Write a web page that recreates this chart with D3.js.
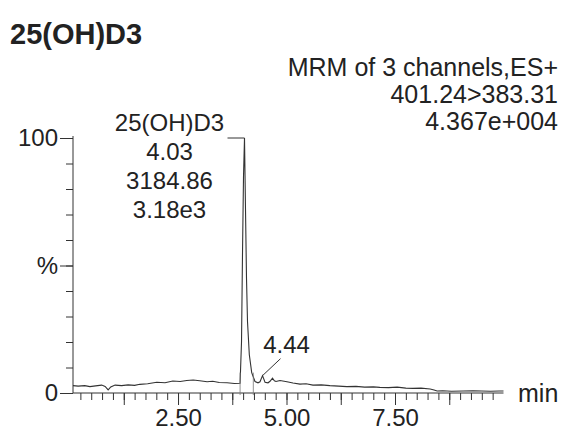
<!DOCTYPE html>
<html>
<head>
<meta charset="utf-8">
<script src="https://cdn.jsdelivr.net/npm/d3@7"></script>
<style>
	body { margin: 0; background: #fff; }
	svg text { font-family: "Liberation Sans", Arial, sans-serif; fill: #222; }
</style>
</head>
<body>
<svg id="chart" width="565" height="432"></svg>
<script>
// chromatogram trace (time in min, intensity in %)
var times = [0.08, 0.2, 0.35, 0.47, 0.6, 0.74, 0.82, 0.89, 0.95, 1.05, 1.2, 1.35, 1.5, 1.62, 1.8, 2.01, 2.2, 2.38, 2.55, 2.7,
	2.85, 3.0, 3.17, 3.3, 3.45, 3.63, 3.8, 3.93, 3.963, 3.986, 4.009, 4.032, 4.055, 4.078, 4.101, 4.143, 4.198, 4.274, 4.343, 4.389,
	4.447, 4.505, 4.574, 4.62, 4.677, 4.72, 4.758, 4.85, 5.01, 5.15, 5.31, 5.45, 5.61, 5.8, 6.0, 6.2, 6.39, 6.6, 6.8, 7.0,
	7.15, 7.35, 7.55, 7.75, 7.91, 8.1, 8.31, 8.4, 8.47, 8.6, 8.8, 9.07, 9.3, 9.5, 9.7, 9.9, 10.0];
var intensities = [2.9, 2.7, 2.9, 2.5, 2.8, 3.1, 2.6, 1.2, 2.4, 3.1, 2.9, 3.2, 3.0, 3.4, 3.6, 4.2, 4.0, 4.7, 4.5, 4.9,
	5.1, 4.8, 4.4, 4.6, 4.1, 4.0, 3.7, 3.8, 20, 55, 85, 100, 72, 45, 28, 15, 8, 4.5, 4.0, 4.4,
	6.8, 4.2, 4.0, 4.6, 5.8, 4.8, 4.5, 4.9, 4.4, 3.9, 3.5, 3.6, 3.1, 3.2, 2.9, 2.7, 2.5, 2.6, 2.3, 2.4,
	2.2, 2.1, 2.3, 1.9, 1.8, 1.9, 1.6, 1.2, 0.8, 0.9, 0.7, 0.8, 0.9, 0.8, 0.7, 0.8, 0.8];

// peak annotations
var mainPeakLabel = ["25(OH)D3", "4.03", "3184.86", "3.18e3"];
var mainPeakTime = 4.032;
var peakBounds = [3.93, 4.235]; // integration drop lines
var minorPeakLabel = "4.44";
var minorPeakTime = 4.447;
var minorPeakValue = 6.8;

// header text
var title = "25(OH)D3";
var headerLines = ["MRM of 3 channels,ES+", "401.24>383.31", "4.367e+004"];

// ticks
var xMinorTicks = d3.range(1, 40).map(function(i) { return i * 0.25; });
var xMajorTicks = [1.25, 2.5, 3.75, 5.0, 6.25, 7.5, 8.75];
var xTickLabels = { 2.5: "2.50", 5: "5.00", 7.5: "7.50" };
var yMinorTicks = d3.range(0, 101, 10);
var yMajorTicks = [0, 50, 100];
var yTickLabels = { 0: "0", 50: "%", 100: "100" };

var svg = d3.select("#chart");
var x = d3.scaleLinear().domain([0.08, 10]).range([73, 503.5]);
var y = d3.scaleLinear().domain([0, 100]).range([393, 138]);

// title + header
svg.append("text").attr("x", 10).attr("y", 44)
	.style("font-size", "29px").style("font-weight", "bold").text(title);

svg.selectAll(".hdr").data(headerLines).enter().append("text")
	.attr("class", "hdr")
	.attr("x", 558).attr("y", function(d, i) { return 76 + i * 27; })
	.attr("text-anchor", "end").style("font-size", "25px")
	.text(function(d) { return d; });

// X AXIS
function styleAxis(g) {
	g.select(".domain").remove();
	g.selectAll("line").attr("stroke", "#333").attr("stroke-width", 1);
	g.selectAll("text").style("font-size", "24px").attr("fill", "#222");
}

svg.append("g").attr("transform", "translate(0,393)")
	.call(d3.axisBottom(x).tickValues(xMinorTicks).tickSize(7).tickFormat(""))
	.call(styleAxis);
svg.append("g").attr("transform", "translate(0,393)")
	.call(d3.axisBottom(x).tickValues(xMajorTicks).tickSize(12).tickPadding(4)
		.tickFormat(function(d) { return xTickLabels[d] || ""; }))
	.call(styleAxis);
svg.append("line").attr("x1", 73).attr("x2", 503.5).attr("y1", 393).attr("y2", 393)
	.attr("stroke", "#333");
svg.append("text").attr("x", 518).attr("y", 402).style("font-size", "25px").text("min");

// Y AXIS
svg.append("g").attr("transform", "translate(73,0)")
	.call(d3.axisLeft(y).tickValues(yMinorTicks).tickSize(7).tickFormat(""))
	.call(styleAxis);
svg.append("g").attr("transform", "translate(73,0)")
	.call(d3.axisLeft(y).tickValues(yMajorTicks).tickSize(13).tickPadding(2)
		.tickFormat(function(d) { return yTickLabels[d]; }))
	.call(styleAxis);
svg.append("line").attr("x1", 73).attr("x2", 73).attr("y1", 136).attr("y2", 393)
	.attr("stroke", "#333");

// TRACE
var pts = times.map(function(t, i) { return [t, intensities[i]]; });
var line = d3.line().x(function(d) { return x(d[0]); }).y(function(d) { return y(d[1]); });
svg.append("path").datum(pts).attr("d", line)
	.attr("fill", "none").attr("stroke", "#333").attr("stroke-width", 1.1);

// integration drop lines
svg.selectAll(".drop").data(peakBounds).enter().append("line")
	.attr("x1", function(d) { return x(d); }).attr("x2", function(d) { return x(d); })
	.attr("y1", y(8)).attr("y2", y(-0.8))
	.attr("stroke", "#777").attr("stroke-width", 0.8);

// main peak label + leader
var px = x(mainPeakTime);
svg.selectAll(".plab").data(mainPeakLabel).enter().append("text")
	.attr("x", px - 75).attr("y", function(d, i) { return 131 + i * 29; })
	.attr("text-anchor", "middle").style("font-size", "24px")
	.text(function(d) { return d; });
svg.append("line").attr("x1", px - 17).attr("x2", px).attr("y1", y(100)).attr("y2", y(100))
	.attr("stroke", "#333");

// minor peak label + leader
var mx = x(minorPeakTime), my = y(minorPeakValue);
svg.append("text").attr("x", mx + 24).attr("y", my - 23)
	.attr("text-anchor", "middle").style("font-size", "24px").text(minorPeakLabel);
svg.append("line").attr("x1", mx).attr("y1", my).attr("x2", mx + 18).attr("y2", my - 17)
	.attr("stroke", "#333");
</script>
</body>
</html>
